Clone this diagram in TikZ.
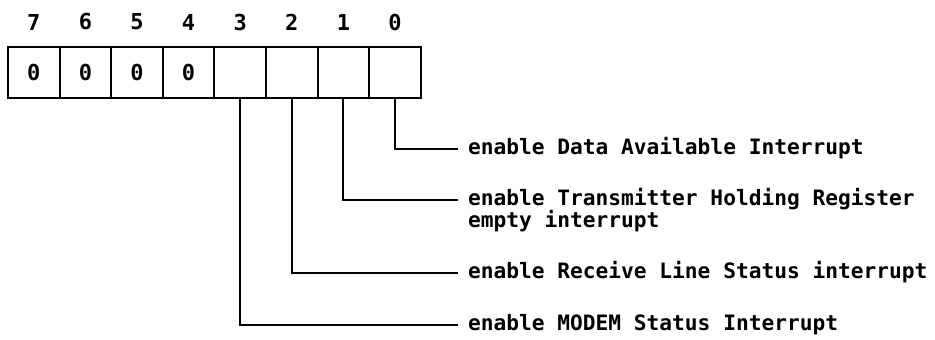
\documentclass[tikz,border=0pt]{standalone}
\usepackage{fontspec}
\newfontfamily\descfont[FakeStretch=1.0]{DejaVu Sans Mono}
\newfontfamily\digitfont{DejaVu Sans Mono}
\begin{document}
\begin{tikzpicture}[x=1pt,y=-1pt,line width=2pt,
  cell/.style={draw,minimum width=51.6pt,minimum height=51pt,inner sep=0pt,outer sep=0pt,
    font=\digitfont\bfseries\fontsize{22}{22}\selectfont},
  bitnum/.style={inner sep=0pt,font=\digitfont\bfseries\fontsize{22}{22}\selectfont},
  desc/.style={anchor=base west,inner sep=0pt,font=\descfont\bfseries\fontsize{21.2}{16}\selectfont},
  leader/.style={line width=2pt}]
\useasboundingbox (0,0) rectangle (935,340);
\foreach \i/\v in {7/0,6/0,5/0,4/0,3/{},2/{},1/{},0/{}}{
  \node[cell] (c\i) at ({8+51.6*(7-\i)+25.8},72) {\v};
  \node[bitnum] (h\i) at ({8+51.6*(7-\i)+25.8},22) {\i};
}
\coordinate (e0) at (458,149);
\coordinate (e1) at (458,200);
\coordinate (e2) at (458,273);
\coordinate (e3) at (458,325);
\node[desc] (t0) at (467,154.5) {enable Data Available Interrupt};
\node[desc] (t1) at (467,205.5) {\begin{tabular}[t]{@{}l@{}}enable Transmitter Holding Register\\empty interrupt\end{tabular}};
\node[desc] (t2) at (467,278.5) {enable Receive Line Status interrupt};
\node[desc] (t3) at (467,330.5) {enable MODEM Status Interrupt};
\draw[leader] (c0.south) |- (e0);
\draw[leader] (c1.south) |- (e1);
\draw[leader] (c2.south) |- (e2);
\draw[leader] (c3.south) |- (e3);
\end{tikzpicture}
\end{document}
